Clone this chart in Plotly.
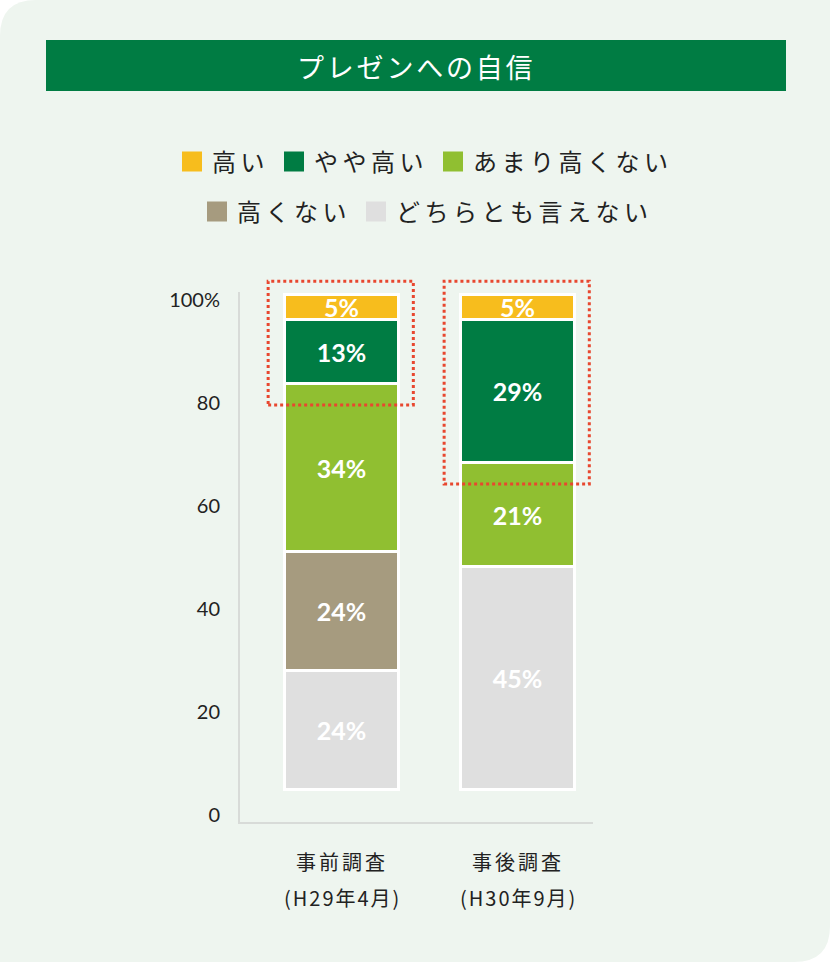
import plotly.graph_objects as go

# survey data (percent)
categories = ["事前調査", "事後調査"]
periods = ["(H29年4月)", "(H30年9月)"]
series_names = ["高い", "やや高い", "あまり高くない", "高くない", "どちらとも言えない"]
high = [5, 5]
fairly_high = [13, 29]
not_very_high = [34, 21]
not_high = [24, None]
neutral = [24, 45]
y_ticks = [0, 20, 40, 60, 80, 100]
y_ticktext = ["0", "20", "40", "60", "80", "100%"]

colors = ["#f7bd1d", "#007c43", "#90bf31", "#a69b7f", "#dfdfdf"]
values = [high, fairly_high, not_very_high, not_high, neutral]

JP = "Noto Sans CJK JP"
NUM = "Lato"
TXT = "#222222"

# plot area in pixels
L, R, T, B = 240, 593, 292, 822
W, H = 830, 962
X_RANGE = [-0.58, 1.426]
Y2_RANGE = [-6.46, 100.61]


def px_x(p):
    return (p - L) / (R - L)


def px_y(p):
    return (B - p) / (B - T)


def x2paper(v):
    return (v - X_RANGE[0]) / (X_RANGE[1] - X_RANGE[0])


def y2paper(v):
    return (v - Y2_RANGE[0]) / (Y2_RANGE[1] - Y2_RANGE[0])


def spaced(s, ls):
    return f"<span style='letter-spacing:{ls}px'>{s}</span>"


fig = go.Figure()

# stacked bars, bottom to top
for i in reversed(range(len(series_names))):
    vals = values[i]
    fig.add_trace(go.Bar(
        x=categories, y=vals, yaxis="y2",
        name=series_names[i], showlegend=False,
        marker=dict(color=colors[i], line=dict(color="white", width=3)),
        width=0.65,
        text=[f"{v}%" if v else "" for v in vals],
        textposition="inside", insidetextanchor="middle",
        constraintext="none", textangle=0,
        textfont=dict(family=NUM, size=25, color="white", weight="bold"),
        hoverinfo="skip",
    ))

# legend proxies
for i, name in enumerate(series_names):
    fig.add_trace(go.Scatter(
        x=[None], y=[None], mode="markers", name=spaced(name, 4.5),
        marker=dict(symbol="square", size=16, color=colors[i],
                    line=dict(color=colors[i], width=4)),
        legend="legend" if i < 3 else "legend2",
    ))

# dotted highlight boxes around top two segments (not clipped, so paper refs)
for i, c in enumerate(categories):
    top2 = high[i] + fairly_high[i]
    fig.add_shape(type="rect", xref="paper", yref="paper",
                  x0=x2paper(i - 0.42), x1=x2paper(i + 0.405),
                  y0=y2paper(100 - top2 - 4.2), y1=y2paper(102.8),
                  line=dict(color="#e8472f", width=3, dash="dot"),
                  layer="above")

# period sub-labels under categories
for c, p in zip(categories, periods):
    fig.add_annotation(x=c, y=px_y(897), xref="x", yref="paper",
                       text=spaced(p, 2), showarrow=False, yanchor="middle",
                       font=dict(family=JP, size=20, color=TXT))

# card background + title bar
card = (f"M {px_x(0)},{px_y(36)} Q {px_x(0)},{px_y(0)} {px_x(36)},{px_y(0)} "
        f"L {px_x(W)},{px_y(0)} L {px_x(W)},{px_y(H - 36)} "
        f"Q {px_x(W)},{px_y(H)} {px_x(W - 36)},{px_y(H)} L {px_x(0)},{px_y(H)} Z")
fig.add_shape(type="path", path=card, xref="paper", yref="paper",
              fillcolor="#eef5ef", line=dict(width=0), layer="below")
fig.add_shape(type="rect", xref="paper", yref="paper",
              x0=px_x(46), x1=px_x(786), y0=px_y(91), y1=px_y(40),
              fillcolor="#007c43", line=dict(width=0), layer="below")
fig.add_annotation(x=px_x(416), y=px_y(66), xref="paper", yref="paper",
                   text=spaced("プレゼンへの自信", 2.8), showarrow=False,
                   xanchor="center", yanchor="middle",
                   font=dict(family=JP, size=27, color="white"))

legend_common = dict(orientation="h", xanchor="left", yanchor="middle",
                     traceorder="normal", bgcolor="rgba(0,0,0,0)",
                     itemclick=False, itemdoubleclick=False,
                     font=dict(family=JP, size=24, color=TXT))

fig.update_layout(
    width=W, height=H,
    margin=dict(l=L, r=W - R, t=T, b=H - B),
    paper_bgcolor="white", plot_bgcolor="rgba(0,0,0,0)",
    barmode="stack", bargap=0,
    legend=dict(x=px_x(172), y=px_y(162), **legend_common),
    legend2=dict(x=px_x(197), y=px_y(212), **legend_common),
    xaxis=dict(range=X_RANGE, showline=True, linecolor="#d8dbd8", linewidth=2,
               showgrid=False, ticks="", ticklabelstandoff=22,
               tickvals=categories, ticktext=[spaced(c, 3) for c in categories],
               tickfont=dict(family=JP, size=20, color=TXT), fixedrange=True),
    yaxis=dict(range=[-1.36, 101.55], showline=True, linecolor="#d8dbd8", linewidth=2,
               showgrid=False, zeroline=False, ticks="", ticklabelstandoff=14,
               tickvals=y_ticks, ticktext=y_ticktext,
               tickfont=dict(family=NUM, size=20, color=TXT), fixedrange=True),
    yaxis2=dict(range=Y2_RANGE, overlaying="y", visible=False, fixedrange=True),
    showlegend=True,
)

fig.write_html("out.html", config={"displayModeBar": False},
               post_script="document.body.style.margin='0';")
